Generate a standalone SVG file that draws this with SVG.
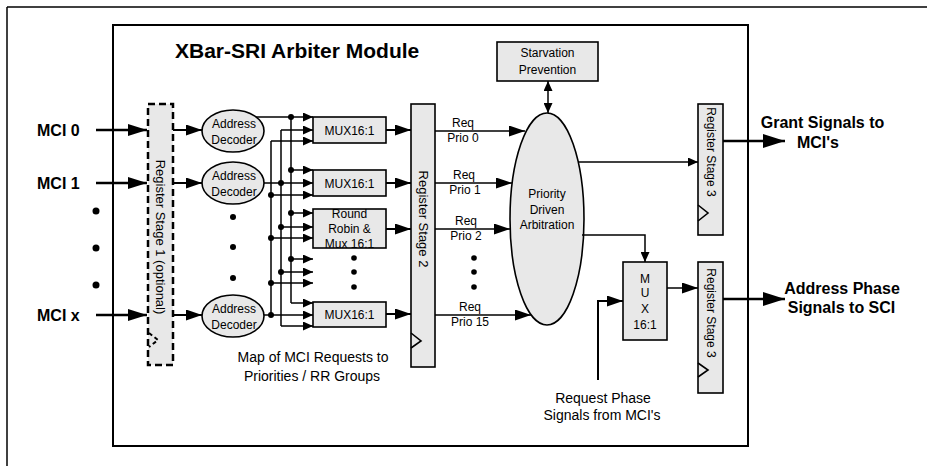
<svg xmlns="http://www.w3.org/2000/svg" width="927" height="466" viewBox="0 0 927 466">
<style>
text{font-family:"Liberation Sans",Arial,sans-serif;fill:#000}
.t12{font-size:12px;text-anchor:middle}
.t14{font-size:14px;text-anchor:middle}
.b16{font-size:16px;font-weight:bold}
.box{fill:#e8e8e8;stroke:#000;stroke-width:1.6}
.w{fill:none;stroke:#000;stroke-width:1.5}
.w2{fill:none;stroke:#000;stroke-width:2}
.w3{fill:none;stroke:#000;stroke-width:2.6}
.dot{fill:#000}
</style>
<defs>
<marker id="aBig" markerUnits="userSpaceOnUse" markerWidth="22" markerHeight="14" refX="22" refY="7" orient="auto"><path d="M0,0 L22,7 L0,14 z"/></marker>
<marker id="aIn" markerUnits="userSpaceOnUse" markerWidth="19" markerHeight="12" refX="19" refY="6" orient="auto"><path d="M0,0 L19,6 L0,12 z"/></marker>
<marker id="aMed" markerUnits="userSpaceOnUse" markerWidth="16" markerHeight="11" refX="16" refY="5.5" orient="auto"><path d="M0,0 L16,5.5 L0,11 z"/></marker>
<marker id="aSm" markerUnits="userSpaceOnUse" markerWidth="10" markerHeight="9" refX="10" refY="4.5" orient="auto-start-reverse"><path d="M0,0 L10,4.5 L0,9 z"/></marker>
</defs>

<g id="frame">
<line x1="7" y1="7" x2="927" y2="7" stroke="#000" stroke-width="1.5"/>
<line x1="7" y1="7" x2="7" y2="466" stroke="#000" stroke-width="1.5"/>
</g>

<g id="module">
<rect x="113" y="25" width="635" height="421" fill="#fff" stroke="#000" stroke-width="2"/>
<text x="175" y="58" style="font-size:21px;font-weight:bold">XBar-SRI Arbiter Module</text>
</g>

<g id="inputs">
<text class="b16" x="37" y="136">MCI 0</text>
<text class="b16" x="37" y="189">MCI 1</text>
<text class="b16" x="37" y="321">MCI x</text>
<circle class="dot" cx="96" cy="211" r="3.5"/>
<circle class="dot" cx="96" cy="248" r="3.5"/>
<circle class="dot" cx="96" cy="285" r="3.5"/>
</g>

<g id="reg1">
<rect x="148" y="104" width="25" height="261" fill="#e8e8e8" stroke="#000" stroke-width="2.5" stroke-dasharray="7 4"/>
<text class="t12" style="font-size:13px" x="160.5" y="237" dominant-baseline="central" transform="rotate(90 160.5 237)">Register Stage 1 (optional)</text>
<polyline points="149,333 158,340 149,347" fill="none" stroke="#000" stroke-width="2" stroke-dasharray="4 3"/>
</g>

<g id="dec1">
<ellipse class="box" cx="233" cy="131" rx="31" ry="21"/>
<text class="t12" x="234" y="128">Address</text>
<text class="t12" x="234" y="144">Decoder</text>
</g>
<g id="dec2">
<ellipse class="box" cx="233" cy="183" rx="31" ry="21"/>
<text class="t12" x="234" y="180">Address</text>
<text class="t12" x="234" y="196">Decoder</text>
</g>
<g id="decx">
<ellipse class="box" cx="233" cy="316" rx="31" ry="21"/>
<text class="t12" x="234" y="313">Address</text>
<text class="t12" x="234" y="329">Decoder</text>
</g>
<g id="decdots">
<circle class="dot" cx="233" cy="217" r="3"/>
<circle class="dot" cx="233" cy="247" r="3"/>
<circle class="dot" cx="233" cy="278" r="3"/>
</g>

<g id="mux1">
<rect class="box" x="313" y="117" width="73" height="26"/>
<text class="t12" x="349.5" y="134.5">MUX16:1</text>
</g>
<g id="mux2">
<rect class="box" x="313" y="170" width="73" height="26"/>
<text class="t12" x="349.5" y="187.5">MUX16:1</text>
</g>
<g id="rr">
<rect class="box" x="313" y="209" width="73" height="39"/>
<text class="t12" x="349.5" y="218">Round</text>
<text class="t12" x="349.5" y="233">Robin &amp;</text>
<text class="t12" x="349.5" y="247.5">Mux  16:1</text>
</g>
<g id="muxdots">
<circle class="dot" cx="354" cy="258" r="2.8"/>
<circle class="dot" cx="354" cy="272" r="2.8"/>
<circle class="dot" cx="354" cy="287" r="2.8"/>
</g>
<g id="muxx">
<rect class="box" x="313" y="302" width="73" height="25"/>
<text class="t12" x="349.5" y="319">MUX16:1</text>
</g>

<g id="reg2">
<rect class="box" x="411" y="104" width="24" height="263"/>
<text class="t12" style="font-size:13px" x="423" y="219" dominant-baseline="central" transform="rotate(90 423 219)">Register Stage 2</text>
<polyline points="411,333 421,341 411,348" fill="none" stroke="#000" stroke-width="1.6"/>
</g>

<g id="labels">
<text class="t12" x="463" y="127">Req</text>
<text class="t12" x="463" y="142">Prio 0</text>
<text class="t12" x="464" y="179">Req</text>
<text class="t12" x="465" y="194">Prio 1</text>
<text class="t12" x="466" y="225">Req</text>
<text class="t12" x="466" y="240">Prio 2</text>
<text class="t12" x="470" y="311">Req</text>
<text class="t12" x="470" y="326">Prio 15</text>
<circle class="dot" cx="474" cy="258" r="2.8"/>
<circle class="dot" cx="474" cy="272" r="2.8"/>
<circle class="dot" cx="474" cy="287" r="2.8"/>
<text class="t14" x="313" y="362">Map of MCI Requests to</text>
<text class="t14" x="312" y="381">Priorities / RR Groups</text>
</g>

<g id="starvation">
<rect class="box" x="497" y="42" width="101" height="39"/>
<text class="t12" x="547.5" y="57">Starvation</text>
<text class="t12" x="547.5" y="74">Prevention</text>
</g>

<g id="arbiter">
<ellipse class="box" cx="547" cy="219" rx="37" ry="106"/>
<text class="t12" x="547" y="198">Priority</text>
<text class="t12" x="547" y="214">Driven</text>
<text class="t12" x="547" y="229">Arbitration</text>
</g>

<g id="reg3a">
<rect class="box" x="698" y="104" width="25" height="131"/>
<text class="t12" x="710.5" y="152" dominant-baseline="central" transform="rotate(90 710.5 152)">Register Stage 3</text>
<polyline points="698,205 708,213 698,221" fill="none" stroke="#000" stroke-width="1.6"/>
</g>

<g id="muxr">
<rect class="box" x="623" y="262" width="44" height="78"/>
<text class="t12" x="645" y="282.5">M</text>
<text class="t12" x="645" y="297">U</text>
<text class="t12" x="645" y="313">X</text>
<text class="t12" x="645" y="329">16:1</text>
</g>

<g id="reg3b">
<rect class="box" x="698" y="262" width="25" height="131"/>
<text class="t12" x="710.5" y="313" dominant-baseline="central" transform="rotate(90 710.5 313)">Register Stage 3</text>
<polyline points="698,363 708,370 698,377" fill="none" stroke="#000" stroke-width="1.6"/>
</g>

<g id="outputs">
<text class="b16" x="822.5" y="128" text-anchor="middle">Grant Signals to</text>
<text class="b16" x="818" y="148" text-anchor="middle">MCI's</text>
<text class="b16" x="842" y="294" text-anchor="middle">Address Phase</text>
<text class="b16" x="841.5" y="313" text-anchor="middle">Signals to SCI</text>
<text class="t14" x="603" y="403">Request Phase</text>
<text class="t14" x="602" y="420">Signals from MCI's</text>
</g>

<g id="connectors">
<line class="w3" x1="96" y1="130" x2="147" y2="130" marker-end="url(#aIn)"/>
<line class="w3" x1="96" y1="183" x2="147" y2="183" marker-end="url(#aIn)"/>
<line class="w3" x1="96" y1="315" x2="147" y2="315" marker-end="url(#aIn)"/>
<line class="w2" x1="173" y1="130" x2="202" y2="130" marker-end="url(#aMed)"/>
<line class="w2" x1="173" y1="183" x2="202" y2="183" marker-end="url(#aMed)"/>
<line class="w2" x1="173" y1="315" x2="202" y2="315" marker-end="url(#aMed)"/>

<line class="w" x1="291" y1="117" x2="291" y2="303"/>
<line class="w" x1="281" y1="130" x2="281" y2="326"/>
<line class="w" x1="271" y1="141" x2="271" y2="315"/>

<line class="w" x1="256" y1="117" x2="313" y2="117" marker-end="url(#aSm)"/>
<line class="w" x1="281" y1="130" x2="313" y2="130" marker-end="url(#aSm)"/>
<line class="w" x1="271" y1="141" x2="313" y2="141" marker-end="url(#aSm)"/>
<line class="w" x1="291" y1="170" x2="313" y2="170" marker-end="url(#aSm)"/>
<line class="w" x1="264" y1="183" x2="313" y2="183" marker-end="url(#aSm)"/>
<line class="w" x1="271" y1="195" x2="313" y2="195" marker-end="url(#aSm)"/>
<line class="w" x1="291" y1="213" x2="313" y2="213" marker-end="url(#aSm)"/>
<line class="w" x1="281" y1="227" x2="313" y2="227" marker-end="url(#aSm)"/>
<line class="w" x1="271" y1="238" x2="313" y2="238" marker-end="url(#aSm)"/>
<line class="w" x1="291" y1="259" x2="313" y2="259" marker-end="url(#aSm)"/>
<line class="w" x1="281" y1="272" x2="313" y2="272" marker-end="url(#aSm)"/>
<line class="w" x1="271" y1="283" x2="313" y2="283" marker-end="url(#aSm)"/>
<line class="w" x1="291" y1="303" x2="313" y2="303" marker-end="url(#aSm)"/>
<line class="w" x1="264" y1="315" x2="313" y2="315" marker-end="url(#aSm)"/>
<line class="w" x1="281" y1="326" x2="313" y2="326" marker-end="url(#aSm)"/>

<circle class="dot" cx="291" cy="117" r="3"/>
<circle class="dot" cx="291" cy="170" r="3"/>
<circle class="dot" cx="291" cy="213" r="3"/>
<circle class="dot" cx="291" cy="259" r="3"/>
<circle class="dot" cx="281" cy="183" r="3"/>
<circle class="dot" cx="281" cy="227" r="3"/>
<circle class="dot" cx="281" cy="272" r="3"/>
<circle class="dot" cx="271" cy="195" r="3"/>
<circle class="dot" cx="271" cy="238" r="3"/>
<circle class="dot" cx="271" cy="283" r="3"/>
<circle class="dot" cx="271" cy="315" r="3"/>

<line class="w2" x1="386" y1="130" x2="411" y2="130" marker-end="url(#aMed)"/>
<line class="w2" x1="386" y1="183" x2="411" y2="183" marker-end="url(#aMed)"/>
<line class="w2" x1="386" y1="229" x2="411" y2="229" marker-end="url(#aMed)"/>
<line class="w2" x1="386" y1="314" x2="411" y2="314" marker-end="url(#aMed)"/>

<line class="w" x1="435" y1="131" x2="525" y2="131" marker-end="url(#aMed)"/>
<line class="w" x1="435" y1="183" x2="512" y2="183" marker-end="url(#aMed)"/>
<line class="w" x1="435" y1="229" x2="510" y2="229" marker-end="url(#aMed)"/>
<line class="w" x1="435" y1="315" x2="531" y2="315" marker-end="url(#aMed)"/>

<line class="w" x1="548" y1="81" x2="548" y2="113" marker-start="url(#aSm)" marker-end="url(#aSm)"/>
<line class="w" x1="578" y1="162" x2="698" y2="162" marker-end="url(#aSm)"/>
<polyline class="w" points="582,235 645,235 645,262" marker-end="url(#aSm)"/>
<line class="w" x1="667" y1="288" x2="698" y2="288" marker-end="url(#aMed)"/>
<polyline class="w2" points="598,380 598,301 623,301" marker-end="url(#aMed)"/>
<line class="w3" x1="723" y1="141" x2="785" y2="141" marker-end="url(#aBig)"/>
<line class="w3" x1="723" y1="299" x2="785" y2="299" marker-end="url(#aBig)"/>
</g>
</svg>
